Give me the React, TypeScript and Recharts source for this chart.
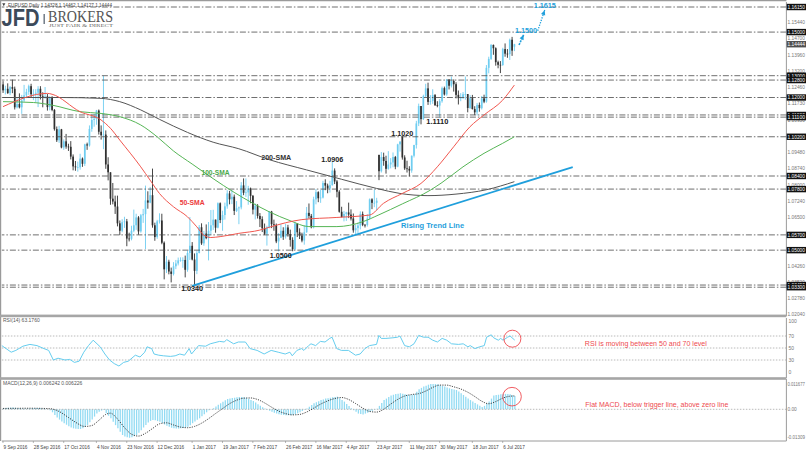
import React from 'react';
import { ComposedChart, Bar, Line, XAxis, YAxis, ReferenceLine, ReferenceDot } from 'recharts';

// ---------------- DATA ----------------
// Daily EURUSD candles, 9 Sep 2016 .. 13 Jul 2017 (bar index = position)
const closes = [
  1.1233, 1.1240, 1.1220, 1.1248, 1.1240, 1.1155, 1.1170, 1.1155, 1.1187, 1.1210, 1.1226, 1.1252, 1.1215, 1.1217, 1.1222, 1.1240,
  1.1206, 1.1205, 1.1205, 1.1156, 1.1200, 1.1143, 1.1055, 1.1004, 1.1054, 1.0971, 1.0999, 1.0975, 1.0974, 1.0929, 1.0884, 1.0880, 1.0880, 1.0920, 1.0896, 1.0985, 1.0980,
  1.1056, 1.1097, 1.1102, 1.1140, 1.1043, 1.1027, 1.1030, 1.0893, 1.0857, 1.0736, 1.0723, 1.0700, 1.0623, 1.0589, 1.0628, 1.0632, 1.0553, 1.0552, 1.0589, 1.0614, 1.0650, 1.0586,
  1.0660, 1.0665, 1.0728, 1.0718, 1.0752, 1.0614, 1.0560, 1.0632, 1.0636, 1.0534, 1.0412, 1.0447, 1.0402, 1.0391, 1.0426, 1.0439, 1.0453, 1.0455, 1.0455, 1.0410, 1.0487, 1.0520,
  1.0457, 1.0405, 1.0487, 1.0605, 1.0531, 1.0576, 1.0555, 1.0589, 1.0614, 1.0640, 1.0603, 1.0715, 1.0638, 1.0661, 1.0701, 1.0760, 1.0733, 1.0745, 1.0680, 1.0692, 1.0696, 1.0797,
  1.0763, 1.0765, 1.0783, 1.0749, 1.0686, 1.0704, 1.0657, 1.0642, 1.0600, 1.0575, 1.0604, 1.0677, 1.0619, 1.0616, 1.0540, 1.0557, 1.0589, 1.0562, 1.0604, 1.0574,
  1.0547, 1.0504, 1.0622, 1.0582, 1.0567, 1.0544, 1.0582, 1.0671, 1.0657, 1.0605, 1.0733, 1.0766, 1.0738, 1.0741, 1.0808, 1.0796, 1.0783, 1.0798, 1.0865, 1.0815, 1.0768, 1.0676, 1.0652,
  1.0666, 1.0673, 1.0663, 1.0645, 1.0591, 1.0601, 1.0613, 1.0666, 1.0616, 1.0615, 1.0645, 1.0733, 1.0717, 1.0717, 1.0727, 1.0862, 1.0927, 1.0909, 1.0873, 1.0893,
  1.0902, 1.0927, 1.0883, 1.0985, 1.0998, 1.0925, 1.0875, 1.0873, 1.0865, 1.0933, 1.0982, 1.1081, 1.1161, 1.1101, 1.1206, 1.1242, 1.1180, 1.1184, 1.1211, 1.1165, 1.1163, 1.1183, 1.1243,
  1.1214, 1.1282, 1.1254, 1.1276, 1.1261, 1.1212, 1.1197, 1.1199, 1.1215, 1.1216, 1.1152, 1.1197, 1.1147, 1.1132, 1.1166, 1.1151, 1.1196, 1.1181, 1.1336, 1.1377, 1.1441, 1.1426,
  1.1362, 1.1350, 1.1349, 1.1422, 1.1401, 1.1399, 1.1465, 1.1415, 1.14444,
];
const highs = [
  1.1275, 1.1254, 1.1265, 1.1253, 1.1282, 1.1250, 1.1197, 1.1219, 1.1212, 1.1258, 1.1240, 1.1259, 1.1263, 1.1238, 1.1238, 1.1252,
  1.1252, 1.1224, 1.1248, 1.1216, 1.1206, 1.1206, 1.1147, 1.1067, 1.1070, 1.1056, 1.1008, 1.1033, 1.0988, 1.1000, 1.0939, 1.0909, 1.0906, 1.0942, 1.0925, 1.0988, 1.0993,
  1.1072, 1.1123, 1.1124, 1.1143, 1.1145, 1.1072, 1.1300, 1.1049, 1.0926, 1.0857, 1.0808, 1.0750, 1.0750, 1.0636, 1.0642, 1.0653, 1.0643, 1.0580, 1.0612, 1.0686, 1.0667, 1.0656,
  1.0666, 1.0689, 1.0796, 1.0770, 1.0790, 1.0874, 1.0626, 1.0639, 1.0669, 1.0667, 1.0540, 1.0473, 1.0456, 1.0420, 1.0445, 1.0455, 1.0466, 1.0467, 1.0467, 1.0475, 1.0498, 1.0652,
  1.0537, 1.0485, 1.0498, 1.0615, 1.0623, 1.0588, 1.0618, 1.0629, 1.0684, 1.0685, 1.0640, 1.0719, 1.0719, 1.0681, 1.0718, 1.0775, 1.0772, 1.0775, 1.0755, 1.0725, 1.0700, 1.0812,
  1.0829, 1.0829, 1.0795, 1.0787, 1.0753, 1.0714, 1.0711, 1.0670, 1.0655, 1.0622, 1.0612, 1.0679, 1.0680, 1.0640, 1.0622, 1.0578, 1.0618, 1.0605, 1.0621, 1.0616,
  1.0594, 1.0559, 1.0630, 1.0623, 1.0600, 1.0580, 1.0615, 1.0698, 1.0714, 1.0666, 1.0745, 1.0780, 1.0770, 1.0776, 1.0818, 1.0825, 1.0805, 1.0818, 1.0906, 1.0875, 1.0822, 1.0775, 1.0699,
  1.0680, 1.0676, 1.0718, 1.0687, 1.0668, 1.0617, 1.0626, 1.0678, 1.0677, 1.0620, 1.0665, 1.0737, 1.0738, 1.0778, 1.0740, 1.0937, 1.0950, 1.0947, 1.0933, 1.0954,
  1.0922, 1.0948, 1.0932, 1.0988, 1.0999, 1.1023, 1.0935, 1.0910, 1.0885, 1.0934, 1.0983, 1.1093, 1.1172, 1.1161, 1.1213, 1.1263, 1.1268, 1.1211, 1.1238, 1.1216, 1.1183, 1.1193, 1.1250,
  1.1250, 1.1285, 1.1284, 1.1296, 1.1283, 1.1270, 1.1232, 1.1220, 1.1225, 1.1296, 1.1216, 1.1211, 1.1212, 1.1160, 1.1175, 1.1177, 1.1207, 1.1213, 1.1349, 1.1387, 1.1445, 1.1443,
  1.1430, 1.1369, 1.1367, 1.1428, 1.1448, 1.1422, 1.1470, 1.1478, 1.14462,
];
const lows = [
  1.1221, 1.1214, 1.1217, 1.1211, 1.1220, 1.1145, 1.1150, 1.1150, 1.1125, 1.1180, 1.1197, 1.1212, 1.1201, 1.1188, 1.1178, 1.1156,
  1.1191, 1.1155, 1.1194, 1.1140, 1.1141, 1.1137, 1.1048, 1.0996, 1.0992, 1.0967, 1.0960, 1.0965, 1.0955, 1.0916, 1.0866, 1.0864, 1.0860, 1.0869, 1.0882, 1.0886, 1.0960,
  1.0975, 1.1043, 1.1066, 1.1075, 1.1030, 1.1007, 1.0963, 1.0873, 1.0820, 1.0708, 1.0710, 1.0666, 1.0609, 1.0569, 1.0582, 1.0602, 1.0518, 1.0540, 1.0545, 1.0582, 1.0593, 1.0571,
  1.0580, 1.0625, 1.0505, 1.0690, 1.0715, 1.0603, 1.0543, 1.0552, 1.0622, 1.0527, 1.0366, 1.0395, 1.0389, 1.0352, 1.0384, 1.0413, 1.0430, 1.0447, 1.0419, 1.0375, 1.0401, 1.0455,
  1.0453, 1.0340, 1.0390, 1.0485, 1.0524, 1.0520, 1.0550, 1.0453, 1.0570, 1.0593, 1.0580, 1.0600, 1.0624, 1.0589, 1.0640, 1.0690, 1.0710, 1.0711, 1.0661, 1.0675, 1.0619, 1.0687,
  1.0752, 1.0744, 1.0708, 1.0715, 1.0664, 1.0641, 1.0645, 1.0606, 1.0583, 1.0569, 1.0521, 1.0600, 1.0601, 1.0589, 1.0532, 1.0494, 1.0555, 1.0547, 1.0553, 1.0562,
  1.0516, 1.0495, 1.0501, 1.0560, 1.0551, 1.0536, 1.0525, 1.0580, 1.0645, 1.0600, 1.0600, 1.0710, 1.0720, 1.0717, 1.0737, 1.0775, 1.0761, 1.0764, 1.0796, 1.0803, 1.0742, 1.0672, 1.0650,
  1.0632, 1.0634, 1.0647, 1.0636, 1.0580, 1.0570, 1.0578, 1.0595, 1.0610, 1.0604, 1.0608, 1.0641, 1.0688, 1.0697, 1.0683, 1.0821, 1.0856, 1.0887, 1.0851, 1.0869,
  1.0875, 1.0880, 1.0871, 1.0880, 1.0952, 1.0915, 1.0868, 1.0856, 1.0838, 1.0855, 1.0925, 1.0966, 1.1069, 1.1077, 1.1097, 1.1202, 1.1166, 1.1167, 1.1171, 1.1161, 1.1155, 1.1109, 1.1176,
  1.1209, 1.1208, 1.1237, 1.1246, 1.1227, 1.1196, 1.1168, 1.1183, 1.1193, 1.1190, 1.1132, 1.1148, 1.1145, 1.1119, 1.1118, 1.1135, 1.1145, 1.1174, 1.1176, 1.1311, 1.1372, 1.1396,
  1.1346, 1.1334, 1.1312, 1.1345, 1.1387, 1.1382, 1.1372, 1.1391, 1.14127,
];
// opens equal the previous close, except where the market gapped
const gapOpens: Record<number, number> = { 0: 1.126, 161: 1.0937, 171: 1.102, 219: 1.14328 };

// moving averages (bar index -> value)
const sma50Bars = [0, 19, 21, 33, 42, 46, 50, 59, 63, 67, 73, 79, 83, 86, 89, 93, 101, 110, 114, 128, 143, 157, 163, 171, 179, 186, 193, 200, 206, 214, 219];
const sma50Vals = [1.1158, 1.1219, 1.1215, 1.1135, 1.1097, 1.1059, 1.1005, 1.0882, 1.0821, 1.076, 1.0699, 1.0653, 1.0607, 1.0569, 1.0558, 1.0562, 1.0577, 1.0592, 1.0605, 1.064, 1.065, 1.0661, 1.0715, 1.076, 1.0806, 1.0882, 1.0974, 1.1066, 1.112, 1.1188, 1.1257];
const sma100Bars = [0, 13, 21, 33, 42, 50, 59, 66, 73, 81, 90, 99, 107, 114, 123, 131, 143, 154, 161, 171, 183, 188, 197, 206, 214, 219];
const sma100Vals = [1.1181, 1.1177, 1.1165, 1.1135, 1.1127, 1.1112, 1.1074, 1.102, 1.0955, 1.0895, 1.0828, 1.0765, 1.0715, 1.0676, 1.0635, 1.0608, 1.0608, 1.063, 1.0662, 1.0712, 1.0775, 1.081, 1.0882, 1.0944, 1.099, 1.102];
const sma200Bars = [0, 25, 42, 50, 59, 67, 79, 90, 101, 114, 130, 145, 160, 170, 182, 194, 207, 219];
const sma200Vals = [1.12, 1.12, 1.1196, 1.1181, 1.1143, 1.11, 1.104, 1.0995, 1.0965, 1.0915, 1.0868, 1.0825, 1.0783, 1.076, 1.075, 1.0757, 1.0777, 1.0814];

// rising trend line and projection arrows (bar index, price)
const trendBars = [81, 244];
const trendPrices = [1.0336, 1.0881];
const arrowBars = [221, 223];
const arrowPrices = [1.1441, 1.1488];
const projBars = [229, 232];
const projPrices = [1.1506, 1.1601];

// RSI(14)
const rsiBars = [0, 4, 6, 9, 12, 15, 18, 20, 22, 24, 27, 29, 31, 33, 35, 37, 39, 42, 44, 46, 48, 50, 52, 54, 57, 59, 61, 62, 64, 65, 67, 69, 72, 74, 76, 78, 80, 81, 84, 87, 89, 91, 93, 95, 96, 99, 101, 104, 106, 109, 112, 115, 118, 121, 123, 124, 126, 128, 129, 131, 132, 134, 136, 138, 140, 141, 143, 145, 148, 151, 153, 155, 157, 160, 161, 162, 164, 167, 169, 170, 172, 174, 176, 178, 180, 182, 184, 186, 188, 190, 192, 195, 197, 199, 200, 202, 204, 206, 207, 209, 210, 212, 213, 214, 216, 217, 219];
const rsiVals = [54, 43, 46, 53, 56, 54, 49, 46, 30, 33, 30, 31, 26, 28, 43, 54, 63, 52, 40, 30, 24, 20, 26, 28, 38, 35, 43, 52, 49, 40, 38, 37, 36, 37, 40, 38, 49, 40, 54, 53, 57, 59, 61, 60, 64, 57, 60, 60, 49, 46, 40, 46, 43, 40, 43, 37, 46, 49, 46, 54, 57, 54, 61, 60, 66, 68, 49, 46, 46, 38, 40, 49, 54, 56, 71, 66, 66, 67, 68, 70, 54, 52, 57, 71, 68, 68, 63, 60, 66, 63, 57, 56, 57, 52, 54, 49, 52, 54, 68, 72, 67, 63, 66, 63, 68, 70, 63.18];

// MACD(12,26,9) main value per bar, in thousandths
const macdMilli = [
  0.5, 0.6, 0.7, 0.8, 0.8, 0.7, 0.6, 0.5, 0.4, 0.3, 0.3, 0.4, 0.4, 0.5, 0.6, 0.6, 0.5, 0.3, 0.2, 0.0,
  -0.4, -1.4, -2.7, -3.8, -4.8, -5.7, -6.5, -7.2, -7.9, -8.5, -8.9, -9.1, -9.2, -9.2, -8.9, -8.2, -7.3, -6.1, -4.8, -3.4,
  -2.0, -1.1, -0.6, -0.3, -1.8, -3.0, -4.2, -5.8, -7.4, -8.9, -10.5, -12.0, -12.7, -13.1, -13.3, -13.1, -12.6, -12.0, -11.0, -9.8,
  -8.5, -7.3, -6.2, -5.4, -5.0, -5.1, -5.5, -5.8, -6.4, -7.1, -7.7, -8.2, -8.6, -8.9, -9.0, -9.0, -8.9, -8.7, -8.5, -8.2,
  -7.4, -6.5, -5.7, -4.9, -4.2, -3.3, -2.3, -1.4, -0.5, 0.1, 0.5, 1.3, 2.1, 2.8, 3.5, 4.2, 4.8, 5.1, 5.3, 5.4,
  5.6, 5.7, 5.7, 5.6, 5.4, 4.9, 4.4, 3.9, 3.2, 2.4, 1.7, 1.0, 0.4, -0.2, -0.7, -1.1, -1.6, -2.0, -2.3, -2.5,
  -2.7, -2.8, -2.8, -2.8, -2.7, -2.3, -1.9, -1.4, -0.8, -0.2, 0.4, 1.2, 2.0, 2.8, 3.3, 3.8, 4.3, 4.6, 5.0, 5.2,
  5.4, 5.6, 5.8, 5.9, 5.2, 4.4, 3.6, 2.5, 1.5, 0.5, -0.4, -1.2, -2.0, -2.2, -2.4, -2.0, -1.6, -1.1, -0.7, -0.2,
  0.3, 1.6, 3.0, 4.3, 5.0, 5.7, 6.4, 6.8, 7.1, 7.3, 7.5, 7.3, 7.0, 6.8, 6.7, 6.8, 7.0, 8.2, 9.4, 10.0,
  10.6, 11.0, 11.5, 11.8, 11.8, 11.8, 11.7, 11.2, 10.9, 10.6, 10.2, 9.8, 9.5, 9.3, 9.0, 8.3, 7.5, 6.7, 5.9, 5.1,
  4.3, 3.6, 2.9, 2.3, 1.7, 1.1, 1.6, 2.6, 3.6, 5.0, 6.4, 6.7, 6.8, 7.0, 7.1, 7.2, 7.2, 7.0, 6.6, 6.24,
];
// MACD signal line, in thousandths
const signalBars = [0, 12, 20, 24, 28, 31, 35, 38, 41, 44, 46, 49, 52, 55, 58, 61, 64, 67, 70, 73, 76, 79, 82, 85, 88, 91, 94, 97, 100, 103, 106, 109, 112, 115, 118, 121, 124, 127, 130, 133, 136, 139, 142, 145, 148, 151, 154, 157, 160, 163, 166, 169, 172, 175, 178, 181, 184, 187, 190, 193, 196, 199, 202, 205, 208, 211, 214, 217, 219];
const signalVals = [0.4, 0.5, 0.3, -1.0, -3.8, -6.0, -8.0, -7.6, -5.2, -2.4, -1.8, -4.5, -8.5, -11.6, -12.5, -11.2, -9.0, -6.8, -6.3, -7.3, -8.3, -8.6, -8.0, -6.5, -4.4, -2.0, 0.3, 2.6, 4.2, 5.2, 5.3, 4.6, 3.0, 1.0, -0.8, -2.0, -2.6, -2.4, -1.3, 0.5, 2.4, 3.9, 5.0, 5.5, 4.6, 2.7, 0.6, -1.0, -1.3, 0.0, 2.4, 4.6, 6.2, 6.9, 7.3, 8.5, 10.2, 11.3, 11.3, 10.5, 9.5, 8.0, 6.0, 3.8, 2.6, 3.6, 5.2, 6.1, 6.23];

// price-axis levels
const levelLines = [1.1615, 1.15, 1.13, 1.128, 1.12, 1.112, 1.111, 1.102, 1.084, 1.078, 1.057, 1.05, 1.034, 1.033];
const plainPriceTicks = [1.0204, 1.0278, 1.0352, 1.0426, 1.0574, 1.065, 1.0724, 1.08, 1.0874, 1.0948, 1.1022, 1.1095, 1.1173, 1.1246, 1.132, 1.1396, 1.147, 1.1544];
const currentPrice = 1.14444;

// date axis
const dateBars = [0, 13, 26, 40, 53, 66, 81, 94, 107, 121, 134, 147, 160, 174, 187, 201, 214];
const dateLabels = ['9 Sep 2016', '28 Sep 2016', '17 Oct 2016', '4 Nov 2016', '23 Nov 2016', '12 Dec 2016', '1 Jan 2017', '19 Jan 2017', '7 Feb 2017', '26 Feb 2017', '16 Mar 2017', '4 Apr 2017', '23 Apr 2017', '11 May 2017', '30 May 2017', '18 Jun 2017', '6 Jul 2017'];

// chart annotations (bar index, price)
const noteTexts = ['1.0340', '1.0500', '1.0906', '1.1020', '1.1110', '200-SMA', '100-SMA', '50-SMA', 'Rising Trend Line', '1.1500', '1.1615'];
const noteBars = [81, 119, 141, 171, 186, 117, 91, 81, 184, 224, 232];
const notePrices = [1.0326, 1.0477, 1.0918, 1.1037, 1.1088, 1.0927, 1.0854, 1.072, 1.0615, 1.1509, 1.162];
const noteKinds = ['level', 'level', 'level', 'level', 'level', 'sma200', 'sma100', 'sma50', 'trend', 'target', 'target'];

// ---------------- LAYOUT / STYLE ----------------
const SLOTS = 336;
const PLOT_LEFT = 1.83;
const AXIS_W = 19.61;
const FONT = '"Liberation Sans", Arial, sans-serif';
const BULL = '#6fcdf0';
const BEAR = '#303030';
const BLUE = '#1f9fdc';
const RED = '#ee4a4f';

const kindStyle: Record<string, { color: string; w: number; size: number }> = {
  level: { color: '#222', w: 22, size: 7.5 },
  sma200: { color: '#333', w: 30, size: 7.5 },
  sma100: { color: '#4aa84a', w: 28, size: 7.5 },
  sma50: { color: '#ec3b3b', w: 25, size: 7.5 },
  trend: { color: BLUE, w: 63, size: 7.5 },
  target: { color: BLUE, w: 22, size: 7.5 },
};

const toMap = (bars: number[], vals: number[]) => {
  const m = new Map<number, number>();
  bars.forEach((b, k) => m.set(b, vals[k]));
  return m;
};
const m50 = toMap(sma50Bars, sma50Vals);
const m100 = toMap(sma100Bars, sma100Vals);
const m200 = toMap(sma200Bars, sma200Vals);
const mTrend = toMap(trendBars, trendPrices);
const mArrow = toMap(arrowBars, arrowPrices);
const mProj = toMap(projBars, projPrices);
const mRsi = toMap(rsiBars, rsiVals);
const mSig = toMap(signalBars, signalVals);

const rows = Array.from({ length: SLOTS }, (_, i) => {
  const has = i < closes.length;
  return {
    i,
    o: has ? (gapOpens[i] ?? closes[i - 1]) : null,
    h: has ? highs[i] : null,
    l: has ? lows[i] : null,
    c: has ? closes[i] : null,
    range: has ? [lows[i], highs[i]] : null,
    sma50: m50.get(i) ?? null,
    sma100: m100.get(i) ?? null,
    sma200: m200.get(i) ?? null,
    trend: mTrend.get(i) ?? null,
    arrow: mArrow.get(i) ?? null,
    proj: mProj.get(i) ?? null,
    rsi: mRsi.get(i) ?? null,
    macd: has ? macdMilli[i] : null,
    signal: mSig.get(i) ?? null,
  };
});

const Candle = (p: any) => {
  const { x, y, width, height, payload } = p;
  if (!payload || payload.c == null || !isFinite(y) || !isFinite(height)) return <g />;
  const { o, h, l, c } = payload;
  const top = Math.min(y, y + height);
  const hh = Math.abs(height);
  const span = h - l || 1e-9;
  const py = (v: number) => top + ((h - v) / span) * hh;
  const cx = x + width / 2;
  const col = c >= o ? BULL : BEAR;
  const bt = py(Math.max(o, c));
  const bb = py(Math.min(o, c));
  return (
    <g>
      <line x1={cx} x2={cx} y1={top} y2={top + hh} stroke={col} strokeWidth={0.9} />
      <rect x={cx - 0.85} y={bt} width={1.7} height={Math.max(bb - bt, 0.7)} fill={col} />
    </g>
  );
};

const PriceTick = (p: any) => {
  const v = p.payload.value;
  const boxed = levelLines.includes(v);
  const cur = v === currentPrice;
  return (
    <g>
      {(boxed || cur) && <rect x={p.x + 0.3} y={p.y - 3.2} width={19.3} height={6.4} fill={cur ? '#505050' : '#111'} />}
      <text x={p.x + 1.2} y={p.y} dy={1.8} fontFamily={FONT} fontSize={5} fill={boxed || cur ? '#fff' : '#777'} textLength={17.4} lengthAdjust="spacingAndGlyphs">
        {v.toFixed(5)}
      </text>
    </g>
  );
};

const RsiTick = (p: any) => {
  const v = p.payload.value;
  const dy = v === 100 ? 3 : v === 0 ? -6 : 0;
  return (
    <text x={p.x + 2} y={p.y + dy} dy={1.8} fontFamily={FONT} fontSize={5} fill="#777">
      {v}
    </text>
  );
};

const macdTickLabels: Record<string, string> = { '11.677': '0.011677', '0': '0.00', '-13.09': '-0.01309' };
const MacdTick = (p: any) => {
  const s = macdTickLabels[String(p.payload.value)];
  return (
    <text x={p.x + 1} y={p.y} dy={1.8} fontFamily={FONT} fontSize={4.8} fill="#777" textLength={s.length > 4 ? 17.6 : undefined} lengthAdjust="spacingAndGlyphs">
      {s}
    </text>
  );
};

const DateTick = (p: any) => {
  const idx = dateBars.indexOf(p.payload.value);
  return (
    <g>
      <line x1={p.x} x2={p.x} y1={p.y} y2={p.y + 2} stroke="#888" strokeWidth={0.6} />
      <text x={p.x + 0.5} y={p.y + 6} dominantBaseline="central" fontFamily={FONT} fontSize={4.7} fill="#444">
        {dateLabels[idx]}
      </text>
    </g>
  );
};

const textShape = (text: string, color: string, size: number, len: number) => (p: any) => (
  <text x={p.cx} y={p.cy} textAnchor="middle" dominantBaseline="central" fontFamily={FONT} fontSize={size} fontWeight={700} fill={color} textLength={len} lengthAdjust="spacingAndGlyphs">
    {text}
  </text>
);
const plainTextShape = (text: string, color: string, size: number, len: number) => (p: any) => (
  <text x={p.cx} y={p.cy} textAnchor="middle" dominantBaseline="central" fontFamily={FONT} fontSize={size} fill={color} textLength={len} lengthAdjust="spacingAndGlyphs">
    {text}
  </text>
);

const arrowHead = (bar: number, angle: number, color: string) => (p: any) => {
  if (!p.payload || p.payload.i !== bar || p.cx == null || p.cy == null) return <g key={`ah-${p.index}`} />;
  return (
    <polygon key={`ah-${p.index}`} points="0,0 -5,-2.2 -5,2.2" fill={color} transform={`translate(${p.cx},${p.cy}) rotate(${angle})`} />
  );
};

const margin = (top: number, bottom: number) => ({ top, bottom, left: PLOT_LEFT, right: 0 });

export default function App() {
  return (
    <div style={{ position: 'absolute', left: 0, top: 0, width: 806, height: 452, background: '#fff', overflow: 'hidden', fontFamily: FONT }}>
      {/* main price panel */}
      <div style={{ position: 'absolute', left: 0, top: 0 }}>
        <ComposedChart width={806} height={318} data={rows} margin={margin(2, 2)}>
          <XAxis dataKey="i" type="category" hide />
          <YAxis
            orientation="right"
            type="number"
            domain={[1.0198, 1.1638]}
            allowDataOverflow
            width={AXIS_W}
            ticks={[...plainPriceTicks, ...levelLines, currentPrice]}
            interval={0}
            tick={<PriceTick />}
            tickSize={0}
            tickMargin={0}
            tickLine={false}
            axisLine={{ stroke: '#9a9a9a' }}
          />
          {levelLines.map((v) => (
            <ReferenceLine key={v} y={v} stroke="#4a4a4a" strokeWidth={0.8} strokeDasharray="6 2 1.5 2" />
          ))}
          <Line dataKey="sma200" stroke="#555" strokeWidth={1} dot={false} connectNulls type="monotone" isAnimationActive={false} />
          <Line dataKey="sma100" stroke="#56b556" strokeWidth={1} dot={false} connectNulls type="monotone" isAnimationActive={false} />
          <Line dataKey="sma50" stroke="#f0574f" strokeWidth={1} dot={false} connectNulls type="monotone" isAnimationActive={false} />
          <Bar dataKey="range" shape={<Candle />} isAnimationActive={false} />
          <Line dataKey="trend" stroke={BLUE} strokeWidth={1.8} dot={false} connectNulls type="linear" isAnimationActive={false} />
          <Line dataKey="arrow" stroke={BLUE} strokeWidth={1.6} strokeDasharray="2 1" dot={arrowHead(arrowBars[1], -65, BLUE)} connectNulls type="linear" isAnimationActive={false} />
          <Line dataKey="proj" stroke={BLUE} strokeWidth={1.3} strokeDasharray="1.3 1.3" dot={arrowHead(projBars[1], -71, BLUE)} connectNulls type="linear" isAnimationActive={false} />
          {noteTexts.map((t, k) => {
            const s = kindStyle[noteKinds[k]];
            return <ReferenceDot key={t} x={noteBars[k]} y={notePrices[k]} r={0} shape={textShape(t, s.color, s.size, s.w)} />;
          })}
        </ComposedChart>
      </div>

      {/* RSI panel */}
      <div style={{ position: 'absolute', left: 0, top: 316 }}>
        <ComposedChart width={806} height={64} data={rows} margin={margin(2, 2)}>
          <XAxis dataKey="i" type="category" hide />
          <YAxis
            orientation="right"
            type="number"
            domain={[0, 100]}
            allowDataOverflow
            width={AXIS_W}
            ticks={[100, 70, 50, 30, 0]}
            interval={0}
            tick={<RsiTick />}
            tickSize={0}
            tickMargin={0}
            tickLine={false}
            axisLine={{ stroke: '#9a9a9a' }}
          />
          {[70, 50, 30].map((v) => (
            <ReferenceLine key={v} y={v} stroke="#a8a8a8" strokeWidth={0.8} strokeDasharray="1.5 1.5" />
          ))}
          <Line dataKey="rsi" stroke="#66cdee" strokeWidth={1} dot={false} connectNulls type="linear" isAnimationActive={false} />
          <ReferenceDot x={218} y={65.5} r={8.5} fill="none" stroke={RED} strokeWidth={0.9} />
          <ReferenceDot x={275} y={56.7} r={0} shape={plainTextShape('RSI is moving between 50 and 70 level', RED, 7, 122)} />
        </ComposedChart>
      </div>

      {/* MACD panel */}
      <div style={{ position: 'absolute', left: 0, top: 377 }}>
        <ComposedChart width={806} height={75} data={rows} margin={margin(2, 0)}>
          <XAxis
            dataKey="i"
            type="category"
            height={11}
            ticks={dateBars}
            interval={0}
            tick={<DateTick />}
            tickSize={0}
            tickMargin={0}
            tickLine={false}
            axisLine={{ stroke: '#9a9a9a' }}
          />
          <YAxis
            orientation="right"
            type="number"
            domain={[-14.8, 14.15]}
            allowDataOverflow
            width={AXIS_W}
            ticks={[11.677, 0, -13.09]}
            interval={0}
            tick={<MacdTick />}
            tickSize={0}
            tickMargin={0}
            tickLine={false}
            axisLine={{ stroke: '#9a9a9a' }}
          />
          <ReferenceLine y={0} stroke="#a8a8a8" strokeWidth={0.8} strokeDasharray="1.5 1.5" />
          <Bar dataKey="macd" fill="#92dbf3" barSize={1.3} isAnimationActive={false} />
          <Line dataKey="signal" stroke="#333" strokeWidth={0.9} strokeDasharray="1.2 1.2" dot={false} connectNulls type="monotone" isAnimationActive={false} />
          <ReferenceDot x={218} y={5.9} r={9.3} fill="none" stroke={RED} strokeWidth={0.9} />
          <ReferenceDot x={280} y={2.2} r={0} shape={plainTextShape('Flat MACD, below trigger line, above zero line', RED, 7, 143)} />
        </ComposedChart>
      </div>

      {/* frame, header and logo */}
      <svg width={806} height={452} style={{ position: 'absolute', left: 0, top: 0, pointerEvents: 'none' }}>
        <line x1={0} x2={786.4} y1={0.6} y2={0.6} stroke="#9a9a9a" strokeWidth={1.2} />
        <line x1={0.6} x2={0.6} y1={0} y2={441} stroke="#9a9a9a" strokeWidth={1.2} />
        <rect x={0} y={314.6} width={786.4} height={2.6} fill="#a6a6a6" />
        <rect x={0} y={377.2} width={786.4} height={2.6} fill="#a6a6a6" />
        <polygon points="2.2,3.2 5.4,3.2 3.8,6.2" fill="#444" />
        <text x={8} y={7} fontFamily={FONT} fontSize={5} fill="#444" textLength={104} lengthAdjust="spacingAndGlyphs">
          EURUSD,Daily  1.14328 1.14462 1.14127 1.14444
        </text>
        <text x={1.5} y={26} fontFamily={FONT} fontSize={23} fontWeight={700} fill="#3c4a5a" textLength={38} lengthAdjust="spacingAndGlyphs">
          JFD
        </text>
        <rect x={43.6} y={14} width={1.1} height={10} fill="#3c4a5a" />
        <text x={48} y={22} fontFamily='"Liberation Serif", "DejaVu Serif", serif' fontSize={16} fill="#555" textLength={65} lengthAdjust="spacingAndGlyphs">
          BROKERS
        </text>
        <text x={49} y={27.3} fontFamily='"Liberation Serif", "DejaVu Serif", serif' fontSize={4.6} fill="#666" textLength={64} lengthAdjust="spacingAndGlyphs">
          JUST FAIR &amp; DIRECT
        </text>
        <text x={3} y={322} fontFamily={FONT} fontSize={5} fill="#555">
          RSI(14) 63.1760
        </text>
        <text x={3} y={385} fontFamily={FONT} fontSize={5} fill="#555">
          MACD(12,26,9) 0.006242 0.006226
        </text>
      </svg>
    </div>
  );
}
